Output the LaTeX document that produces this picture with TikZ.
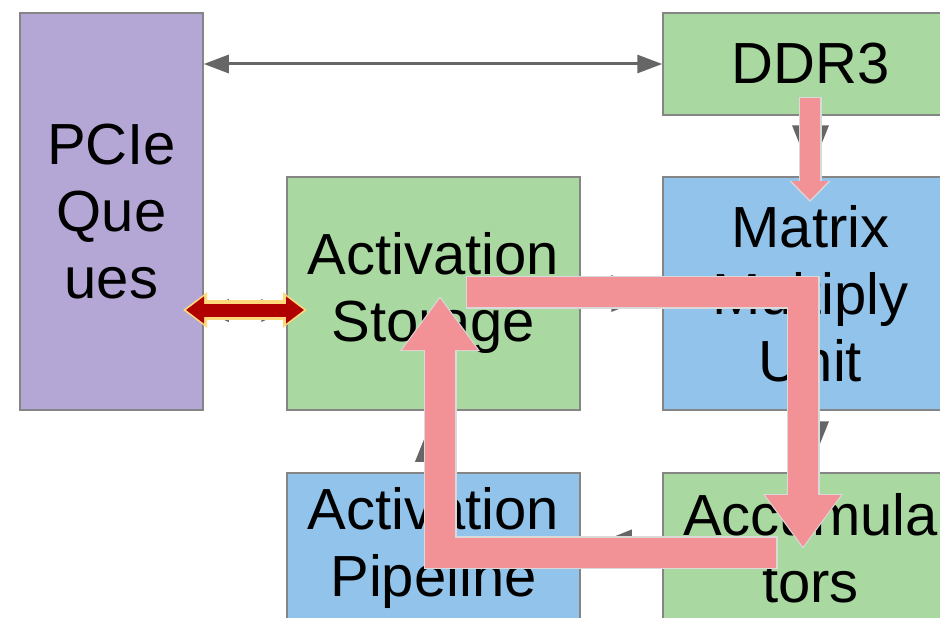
\documentclass[tikz,border=0pt]{standalone}
\usepackage{fontspec}
\setmainfont{Liberation Sans}
\usetikzlibrary{arrows.meta}
\definecolor{boxpurple}{RGB}{180,167,214}
\definecolor{boxgreen}{RGB}{169,216,160}
\definecolor{boxblue}{RGB}{146,196,235}
\definecolor{flowpink}{RGB}{243,146,150}
\definecolor{edgegray}{RGB}{102,102,102}
\definecolor{hlred}{RGB}{176,0,0}
\definecolor{hlyellow}{RGB}{255,217,122}
\tikzset{
  unit/.style={draw=edgegray!80, line width=1.5pt, inner sep=0pt, align=center,
    font=\fontsize{58}{67}\selectfont},
  bus/.style={draw=edgegray, line width=3pt, <->, >={Triangle[width=18pt,length=25pt]}},
  feed/.style={draw=edgegray, line width=4pt, -{Triangle[width=36pt,length=46pt]}, shorten >=5pt},
  flowrim/.style={draw=black!15, line width=33pt, -{Triangle[width=76pt,length=55pt]},
    shorten >=-2pt, shorten <=-1.5pt},
  flow/.style={draw=flowpink, line width=30pt, -{Triangle[width=72pt,length=52pt]}},
}
\begin{document}
\begin{tikzpicture}[x=1pt, y=-1pt]
  \useasboundingbox (0,0) rectangle (940,618);
  \clip (0,0) rectangle (940,618);
  \node [unit, fill=boxpurple, minimum width=183pt, minimum height=397pt] (pcie) at (111.5,211.5) {PCIe\\Que\\ues};
  \node [unit, fill=boxgreen, minimum width=295pt, minimum height=102pt] (ddr) at (810.5,64) {DDR3};
  \node [unit, fill=boxgreen, minimum width=293pt, minimum height=233pt] (act) at (433.5,293.5) {Activation\\Storage};
  \node [unit, fill=boxblue, minimum width=295pt, minimum height=233pt] (mmu) at (810.5,293.5) {Matrix\\Multiply\\Unit};
  \node [unit, fill=boxblue, minimum width=293pt, minimum height=150pt] (pipe) at (433.5,548) {Activation\\Pipeline};
  \node [unit, fill=boxgreen, minimum width=295pt, minimum height=150pt] (acc) at (810.5,548) {Accumula\\tors};
  % data paths
  \draw [bus] (pcie.east |- ddr.west) to (ddr.west);
  \coordinate (pq) at ([yshift=-17pt]act.west);
  \draw [draw=edgegray, line width=4pt, {Triangle[width=22pt,length=25pt]}-{Triangle[width=22pt,length=25pt]}] (pcie.east |- pq) to (pq);
  \draw [feed] (act.east) to (mmu.west);
  \draw [feed] (ddr.south) to (mmu.north);
  \draw [feed] (mmu.south) to (acc.north);
  \draw [feed] (acc.west) to (pipe.east);
  \draw [feed] (pipe.north) to (act.south);
  % weight flow
  \coordinate (wtop) at (810,98);
  \coordinate (wbot) at (810,200);
  \draw [draw=black!15, line width=23pt, -{Triangle[width=40pt,length=21pt]}, shorten >=-2pt, shorten <=-1.5pt] (wtop) to (wbot);
  \draw [draw=flowpink, line width=20pt, -{Triangle[width=36pt,length=19pt]}] (wtop) to (wbot);
  % activation loop
  \coordinate (ain) at (467,292);
  \coordinate (aturn) at (803,292);
  \coordinate (aend) at (803,547);
  \coordinate (bin) at (776,552.5);
  \coordinate (bturn) at (440,552.5);
  \coordinate (bend) at (440,298);
  \draw [flowrim] (ain) -- (aturn) -- (aend);
  \draw [flow] (ain) -- (aturn) -- (aend);
  \draw [flowrim] (bin) -- (bturn) -- (bend);
  \draw [flow] (bin) -- (bturn) -- (bend);
  % host link
  \coordinate (hl) at (183,310);
  \coordinate (hr) at (307,310);
  \draw [draw=hlyellow, line width=20pt, {Triangle[width=34pt,length=24pt]}-{Triangle[width=34pt,length=24pt]}] (hl) to (hr);
  \draw [draw=hlred, line width=13pt, {Triangle[width=26pt,length=18pt]}-{Triangle[width=26pt,length=18pt]}, shorten >=3pt, shorten <=3pt] (hl) to (hr);
\end{tikzpicture}
\end{document}
